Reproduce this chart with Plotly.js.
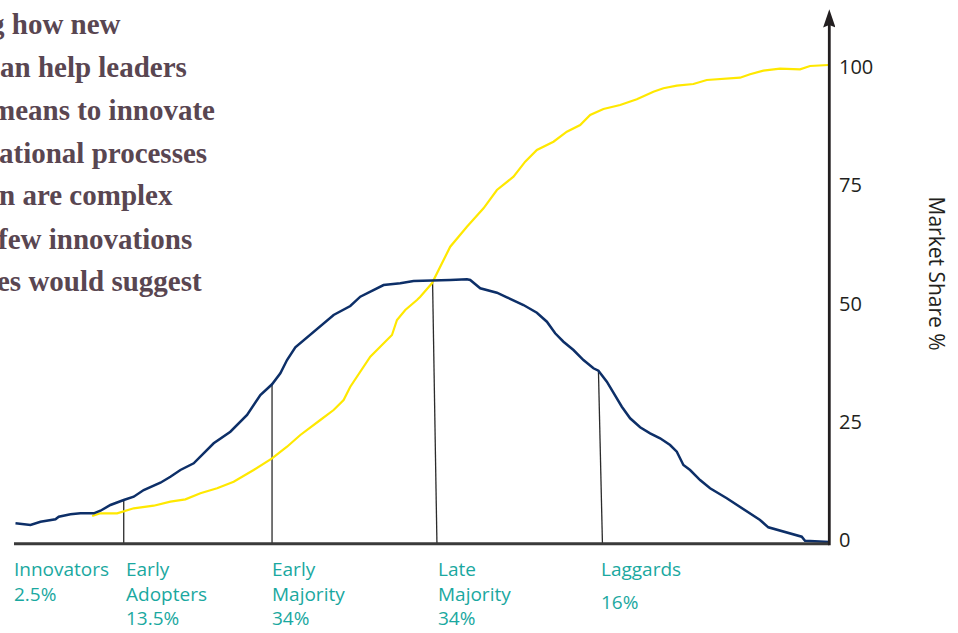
<!DOCTYPE html>
<html>
<head>
<meta charset="utf-8">
<script src="https://cdn.plot.ly/plotly-3.0.1.min.js"></script>
<style>html,body{margin:0;padding:0;background:#fff;}#chart{width:958px;height:633px;}</style>
</head>
<body>
<div id="chart"></div>
<script>
// Adopter distribution (dark blue curve)
const adopterX = [1.5,16.5,26.5,41.5,44.8,56.5,66.5,79.8,86.5,96.5,109.8,119.8,129.8,146.5,156.5,166.5,179.8,189.8,199.8,216.5,233.2,246.5,258.2,266.5,273.2,281.5,299.8,309.8,319.8,336.5,346.5,369.8,386.5,399.8,419.8,436.5,453.2,456.5,466.5,483.2,493.2,509.8,523.2,533.2,541.5,549.8,559.8,569.8,579.8,584.8,593.2,599.8,608.2,616.5,626.5,636.5,646.5,656.5,663.2,669.8,676.5,686.5,696.5,713.2,729.8,746.5,754.8,773.2,788.2,791.5,815.8];
const adopterY = [3.53,3.17,3.87,4.38,4.93,5.43,5.64,5.64,6.19,7.40,8.46,9.15,10.57,12.11,13.38,14.80,16.22,18.33,20.44,22.90,26.43,30.66,32.92,35.24,38.05,40.74,44.04,45.81,47.57,49.47,51.44,53.91,54.27,54.76,54.82,54.97,55.12,54.97,53.21,52.28,51.31,49.68,48.05,46.15,43.70,41.92,40.17,38.05,36.30,35.79,33.47,31.01,28.18,25.73,23.83,22.56,21.50,20.08,18.67,15.86,14.80,12.68,10.93,8.82,6.49,4.23,2.68,1.54,0.70,-0.15,-0.40];

// Market share (yellow curve)
const shareX = [78.2,86.5,103.2,119.8,139.8,156.5,171.5,186.5,203.2,219.8,239.8,258.2,273.2,286.5,306.5,319.8,329.8,336.5,356.5,378.2,383.2,391.5,403.2,406.5,418.2,426.5,436.5,453.2,469.8,483.2,499.8,511.5,523.2,539.8,553.2,566.5,576.5,589.8,606.5,623.2,639.8,649.8,663.2,679.8,693.2,726.5,736.5,749.8,766.5,786.5,796.5,814.8];
const shareY = [5.07,5.64,5.64,6.70,7.25,8.10,8.60,9.87,10.93,12.33,14.80,17.27,19.72,22.20,25.37,27.48,29.60,32.41,38.75,43.34,46.51,48.63,50.74,51.44,54.27,57.78,62.01,66.24,70.13,74.00,76.81,79.98,82.45,84.21,86.32,87.74,89.85,91.12,91.97,93.17,94.78,95.50,96.05,96.41,97.25,97.74,98.46,99.22,99.64,99.51,100.21,100.42];

// Category dividers
const dividerTopX = [109.8, 258.2, 418.8, 584.8];
const dividerBottomX = [109.8, 258.2, 423.2, 588.8];
const dividerTopY = [8.46, 32.92, 54.86, 35.79];

// Category labels
const categoryNames = ['Innovators', 'Early<br>Adopters', 'Early<br>Majority', 'Late<br>Majority', 'Laggards'];
const categoryShares = ['2.5%', '13.5%', '34%', '34%', '16%'];

// Axis ticks
const yTicks = [0, 25, 50, 75, 100];
const yTickText = ['0', '25', '50', '75', '100'];

// Intro text fragments (cut off at the left edge, as in the source)
const introLines = ['g how new', 'an help leaders', 'means to innovate', 'ational processes', 'n are complex', 'few innovations', 'es would suggest'];

// ---- layout constants ----
const W = 958, H = 633;
const ML = 13.5, MR = 123, MT = 0, MB = 85;
const plotW = W - ML - MR, plotH = H - MT - MB;
const PXU = 4.73;
const Y0PX = 540;
const py = function (p) { return (Y0PX - p) / PXU; };
const paperX = function (p) { return (p - ML) / plotW; };
const paperY = function (p) { return (H - MB - p) / plotH; };
const baseY = py(543.8);
const axisX = 815.8;
const teal = '#1aa8a0';

const divX = [], divY = [];
for (let i = 0; i < dividerTopX.length; i++) {
  divX.push(dividerBottomX[i], dividerTopX[i], null);
  divY.push(baseY, dividerTopY[i], null);
}

const traces = [
  {x: divX, y: divY, mode: 'lines', line: {color: '#2b2b2b', width: 1.3}, hoverinfo: 'skip'},
  {x: shareX, y: shareY, mode: 'lines', line: {color: '#ffe800', width: 2.2}, hoverinfo: 'skip'},
  {x: adopterX, y: adopterY, mode: 'lines', line: {color: '#0d2f68', width: 2.5}, hoverinfo: 'skip'}
];

const annotations = [];
const labelX = [0].concat(dividerBottomX);
const labelShift = [-2.5, 0, -2, -1, -3];
const labFont = {family: 'Open Sans', size: 19, color: teal};
for (let i = 0; i < categoryNames.length; i++) {
  const xp = (labelX[i] + labelShift[i]) / plotW;
  if (i < categoryNames.length - 1) {
    annotations.push({xref: 'paper', yref: 'paper', x: xp, y: paperY(554), xanchor: 'left', yanchor: 'top', align: 'left', showarrow: false,
      text: categoryNames[i] + '<br>' + categoryShares[i], font: labFont});
  } else {
    annotations.push({xref: 'paper', yref: 'paper', x: xp, y: paperY(554), xanchor: 'left', yanchor: 'top', align: 'left', showarrow: false,
      text: categoryNames[i], font: labFont});
    annotations.push({xref: 'paper', yref: 'paper', x: xp, y: paperY(587), xanchor: 'left', yanchor: 'top', align: 'left', showarrow: false,
      text: categoryShares[i], font: labFont});
  }
}
annotations.push({xref: 'paper', yref: 'paper', x: paperX(937.5), y: paperY(274), xanchor: 'center', yanchor: 'middle', textangle: 90, showarrow: false,
  text: 'Market Share %', font: {family: 'Open Sans', size: 21, color: '#231f20'}});
const introStartPx = [-13, -3, -12, -4, -4, -5, -6];
const introCenterPx = [24, 67, 110, 153, 195.5, 238.5, 281];
for (let i = 0; i < introLines.length; i++) {
  annotations.push({xref: 'paper', yref: 'paper', x: paperX(introStartPx[i]), y: paperY(introCenterPx[i]), xanchor: 'left', yanchor: 'middle',
    showarrow: false, text: '<b>' + introLines[i] + '</b>',
    font: {family: 'Liberation Serif', size: 29, color: '#594651'}});
}

const layout = {
  width: W, height: H,
  margin: {l: ML, r: MR, t: MT, b: MB, pad: 0},
  paper_bgcolor: '#ffffff', plot_bgcolor: '#ffffff',
  showlegend: false,
  xaxis: {range: [0, plotW], showgrid: false, zeroline: false, showticklabels: false, ticks: '', showline: false, fixedrange: true},
  yaxis: {range: [py(H - MB), py(MT)], side: 'right', showgrid: false, zeroline: false, showline: false,
    tickvals: yTicks, ticktext: yTickText, ticks: '', ticklen: 0, ticklabelstandoff: 3,
    tickfont: {family: 'Open Sans', size: 20, color: '#231f20'}, automargin: false},
  shapes: [
    {type: 'line', xref: 'x', yref: 'y', x0: 0, x1: axisX, y0: baseY, y1: baseY, line: {color: '#3a3a3a', width: 3}},
    {type: 'line', xref: 'x', yref: 'y', x0: axisX, x1: axisX, y0: baseY - 0.3, y1: py(24), line: {color: '#231f20', width: 2.8}},
    {type: 'path', xref: 'x', yref: 'y', path: 'M ' + (axisX - 6.2) + ' ' + py(27.5) + ' L ' + axisX + ' ' + py(9.3) + ' L ' + (axisX + 6.2) + ' ' + py(27.5) + ' L ' + axisX + ' ' + py(25) + ' Z',
      fillcolor: '#231f20', line: {width: 0}}
  ],
  annotations: annotations
};
Plotly.newPlot('chart', traces, layout, {staticPlot: true, displayModeBar: false});
</script>
</body>
</html>
